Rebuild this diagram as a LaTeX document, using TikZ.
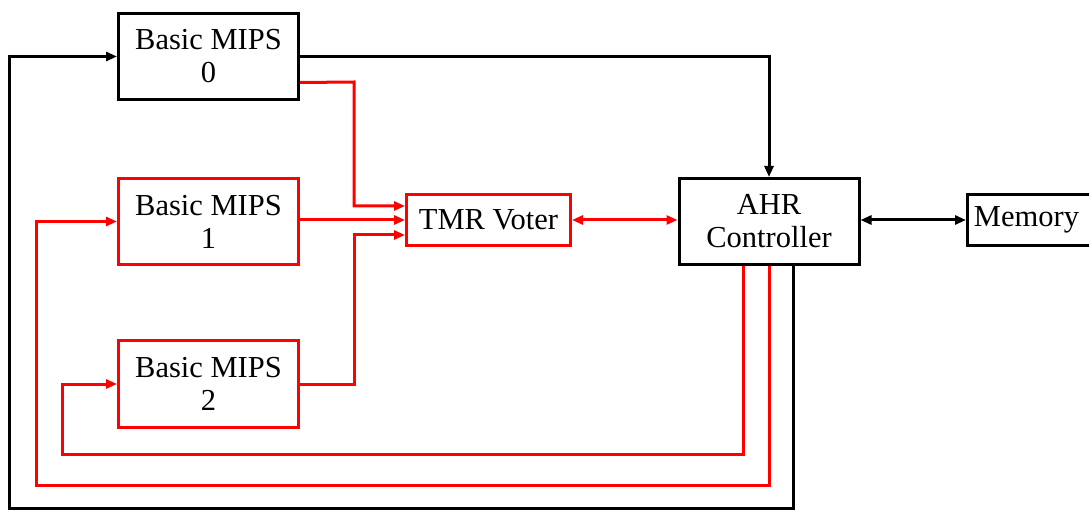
\documentclass[tikz,border=0pt]{standalone}
\usepackage{fontspec}
\setmainfont{Liberation Serif}
\newfontfamily\tnr{Liberation Serif}
\usetikzlibrary{arrows.meta}
\begin{document}
\begin{tikzpicture}[x=1pt,y=-1pt,
  box/.style={draw=black,line width=3pt,inner sep=0pt,align=center,
    font=\tnr\fontsize{30.5}{33}\selectfont,text=black},
  big/.style={box,minimum width=180pt,minimum height=86pt},
  small/.style={box,minimum width=164pt,minimum height=51pt},
  redbox/.style={draw=red},
  wire/.style={line width=3pt,-{Triangle[length=11pt,width=9pt]}},
  bwire/.style={line width=3pt,{Triangle[length=11pt,width=9pt]}-{Triangle[length=11pt,width=9pt]}},
  rw/.style={draw=red},
  bw/.style={draw=black}]
\useasboundingbox (0,0) rectangle (1089,510);
\node[big] (m0) at (208.5,56.5) {Basic MIPS\\0};
\node[big,redbox] (m1) at (208.5,221.5) {Basic MIPS\\1};
\node[big,redbox] (m2) at (208.5,384) {Basic MIPS\\2};
\node[small,redbox] (tmr) at (488.5,220) {TMR Voter};
\node[big] (ahr) at (769,221.5) {AHR\\Controller};
\node[box,minimum width=130pt,minimum height=51pt,anchor=west] (mem) at (966,220) {\hspace*{-12pt}Memory};
% MIPS -> TMR
\coordinate (j0) at (354,82);
\draw[wire,rw] ([yshift=-26pt]m0.east) -- (j0) |- ([yshift=14pt]tmr.west);
\draw[wire,rw] (m1.east |- tmr.west) -- (tmr.west);
\draw[wire,rw] (m2.east) -| (354,300) |- ([yshift=-15pt]tmr.west);
% TMR <-> AHR
\draw[bwire,rw] (tmr.east) -- (ahr.west |- tmr.east);
% AHR <-> Memory
\draw[bwire,bw] (ahr.east |- mem.west) -- (mem.west);
% MIPS0 -> AHR
\draw[wire,bw] (m0.east) -| (ahr.north);
% feedback loops
\coordinate (a2) at (743,454);
\coordinate (b2) at (62,454);
\draw[wire,rw] ([xshift=-26pt]ahr.south) -- (a2) -- (b2) |- (m2.west);
\coordinate (a1) at (769,485);
\coordinate (b1) at (36,485);
\draw[wire,rw] (ahr.south) -- (a1) -- (b1) |- (m1.west);
\coordinate (a0) at (793,508);
\coordinate (b0) at (9,508);
\draw[wire,bw] ([xshift=24pt]ahr.south) -- (a0) -- (b0) |- (m0.west);
\end{tikzpicture}
\end{document}
